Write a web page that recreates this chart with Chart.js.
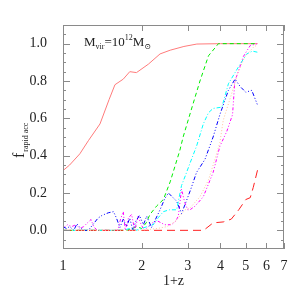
<!DOCTYPE html>
<html>
<head>
<meta charset="utf-8">
<script src="https://cdn.jsdelivr.net/npm/chart.js@4/dist/chart.umd.min.js"></script>
<style>
  html, body { margin: 0; padding: 0; background: #fff; }
  #wrap { width: 300px; height: 300px; }
</style>
</head>
<body>
<div id="wrap"><canvas id="myChart" width="300" height="300"></canvas></div>
<script>
// axis ticks
const xTickVals = [1, 2, 3, 4, 5, 6, 7];
const yTickVals = [0.0, 0.2, 0.4, 0.6, 0.8, 1.0];
const yMinorVals = [-0.05, 0.05, 0.1, 0.15, 0.25, 0.3, 0.35, 0.45, 0.5, 0.55, 0.65, 0.7, 0.75, 0.85, 0.9, 0.95, 1.05];

// salmon solid
const salmonX = [1, 1.06, 1.16, 1.25, 1.385, 1.5, 1.58, 1.7, 1.8, 1.91, 2.12, 2.35, 2.57, 2.9, 3.25, 4, 5, 5.55];
const salmonY = [0.32, 0.35, 0.41, 0.48, 0.57, 0.7, 0.78, 0.81, 0.85, 0.845, 0.89, 0.945, 0.965, 0.985, 0.998, 1, 1, 1];

// green dashed
const greenX = [1, 1.5, 1.75, 1.85, 1.91, 2.0, 2.08, 2.15, 2.28, 2.42, 2.57, 2.8, 2.88, 3.1, 3.34, 3.6, 3.93, 5.55];
const greenY = [0, 0, 0, 0.01, 0.02, 0.01, 0.04, 0.085, 0.13, 0.165, 0.26, 0.43, 0.5, 0.65, 0.8, 0.935, 1.0, 1.0];

// cyan dash-dot
const cyanX = [1, 1.1, 1.2, 1.3, 1.4, 1.5, 1.6, 1.7, 1.8, 1.9, 2.0, 2.1, 2.21, 2.32, 2.42, 2.55, 2.72, 2.84, 2.95, 3.06, 3.24, 3.44, 3.6, 3.75, 4.05, 4.29, 4.68, 5.04, 5.3, 5.55];
const cyanY = [0, 0, 0, 0, 0, 0, 0, 0, 0.01, 0, 0.01, 0.02, 0.03, 0.07, 0.1, 0.11, 0.11, 0.24, 0.3, 0.36, 0.45, 0.57, 0.63, 0.653, 0.66, 0.785, 0.874, 0.945, 0.96, 0.954];

// blue dash-dot-dot-dot
const blueX = [1, 1.03, 1.06, 1.1, 1.13, 1.17, 1.21, 1.25, 1.3, 1.36, 1.41, 1.49, 1.56, 1.6, 1.65, 1.7, 1.75, 1.8, 1.85, 1.9, 1.96, 2.03, 2.09, 2.18, 2.26, 2.35, 2.45, 2.53, 2.64, 2.72, 2.84, 2.95, 3.08, 3.24, 3.49, 3.75, 3.98, 4.29, 4.55, 4.76, 5.0, 5.27, 5.55];
const blueY = [0.02, 0.01, 0.02, 0, 0.035, 0.01, 0, 0, 0.03, 0.065, 0.08, 0.094, 0.1, 0.067, 0.015, 0.06, 0.02, 0.065, 0, 0.05, 0.08, 0.03, 0.076, 0.015, 0.06, 0.11, 0.17, 0.2, 0.174, 0.156, 0.09, 0.15, 0.22, 0.31, 0.38, 0.5, 0.62, 0.75, 0.81, 0.77, 0.74, 0.75, 0.67];

// magenta dash-dot-dot
const magentaX = [1, 1.04, 1.08, 1.12, 1.16, 1.2, 1.24, 1.28, 1.31, 1.35, 1.45, 1.55, 1.62, 1.66, 1.7, 1.73, 1.78, 1.83, 1.88, 1.94, 1.99, 2.05, 2.12, 2.2, 2.3, 2.45, 2.6, 2.7, 2.76, 2.84, 2.92, 3.0, 3.06, 3.2, 3.44, 3.75, 3.98, 4.23, 4.45, 4.54, 4.68, 4.89, 5.04, 5.2, 5.55];
const magentaY = [0.01, 0.03, 0.02, 0.03, 0.01, 0.02, 0.04, 0.058, 0.02, 0, 0, 0, 0, 0.06, 0.1, 0, 0.067, 0.085, 0, 0.076, 0.03, 0, 0.02, 0.04, 0.05, 0.03, 0.03, 0.05, 0.076, 0.22, 0.15, 0.11, 0.11, 0.13, 0.18, 0.31, 0.45, 0.53, 0.62, 0.8, 0.85, 0.93, 0.96, 0.99, 1.0];

// peach dotted
const peachX = [1, 1.5, 2.0, 2.3, 2.5, 2.7, 2.93, 3.06, 3.34, 3.6, 3.81, 3.98, 4.1, 4.41, 4.68, 4.96, 5.34, 5.55];
const peachY = [0, 0, 0, 0.01, 0.02, 0.05, 0.11, 0.12, 0.18, 0.27, 0.38, 0.47, 0.59, 0.73, 0.85, 0.93, 0.98, 0.995];

// red long dashes
const redX = [1, 3.45, 3.75, 4.1, 4.4, 4.7, 5.0, 5.2, 5.34, 5.55];
const redY = [0, 0, 0.04, 0.045, 0.06, 0.11, 0.165, 0.175, 0.23, 0.325];

const serif = '"Liberation Serif", "DejaVu Serif", serif';

function pts(xs, ys) {
  return xs.map((x, i) => ({ x: x, y: ys[i] }));
}

function serie(xs, ys, color, dash) {
  return {
    data: pts(xs, ys),
    borderColor: color,
    borderWidth: 1,
    borderDash: dash,
    pointRadius: 0,
    fill: false,
    tension: 0
  };
}

// ticks inside the frame, frame, labels with sub/superscripts
const decorations = {
  id: 'decorations',
  afterDraw(chart) {
    const ctx = chart.ctx;
    const a = chart.chartArea;
    const xs = chart.scales.x;
    const ys = chart.scales.y;
    ctx.save();
    ctx.strokeStyle = '#8a8a8a';
    ctx.lineWidth = 1;
    ctx.strokeRect(Math.round(a.left) + 0.5, Math.round(a.top) + 0.5, Math.round(a.right - a.left) - 1, Math.round(a.bottom - a.top) - 1);

    ctx.beginPath();
    xTickVals.forEach(v => {
      const px = Math.round(xs.getPixelForValue(v)) + 0.5;
      ctx.moveTo(px, a.bottom); ctx.lineTo(px, a.bottom - 6);
      ctx.moveTo(px, a.top); ctx.lineTo(px, a.top + 6);
    });
    yTickVals.forEach(v => {
      const py = Math.round(ys.getPixelForValue(v)) + 0.5;
      ctx.moveTo(a.left, py); ctx.lineTo(a.left + 7, py);
      ctx.moveTo(a.right, py); ctx.lineTo(a.right - 7, py);
    });
    yMinorVals.forEach(v => {
      const py = Math.round(ys.getPixelForValue(v)) + 0.5;
      ctx.moveTo(a.left, py); ctx.lineTo(a.left + 3, py);
      ctx.moveTo(a.right, py); ctx.lineTo(a.right - 3, py);
    });
    ctx.stroke();

    ctx.fillStyle = '#222';
    ctx.textBaseline = 'alphabetic';
    ctx.textAlign = 'left';

    // M_vir = 10^12 M_sun
    let x = 84;
    const base = 46;
    const big = '13px ' + serif;
    const small = '8px ' + serif;
    function put(t, font, dy) {
      ctx.font = font;
      ctx.fillText(t, x, base + dy);
      x += ctx.measureText(t).width;
    }
    put('M', big, 0);
    put('vir', small, 3);
    put('=10', big, 0);
    put('12', small, -6);
    put('M', big, 0);
    put('\u2299', small, 3);

    // x title
    ctx.font = '14px ' + serif;
    ctx.textAlign = 'center';
    ctx.fillText('1+z', (a.left + a.right) / 2, 285);

    // y title, rotated
    ctx.save();
    ctx.translate(24, 158);
    ctx.rotate(-Math.PI / 2);
    ctx.textAlign = 'left';
    ctx.font = '16px ' + serif;
    ctx.fillText('f', 0, 0);
    const fw = ctx.measureText('f').width;
    ctx.font = '8px ' + serif;
    ctx.fillText('rapid acc', fw + 1, 4);
    ctx.restore();

    ctx.restore();
  }
};

const ctx = document.getElementById('myChart').getContext('2d');
const myChart = new Chart(ctx, {
  type: 'line',
  data: {
    datasets: [
      serie(peachX, peachY, '#ffc39a', [1, 2]),
      serie(redX, redY, '#ff2020', [8, 5]),
      serie(cyanX, cyanY, '#00ffff', [4, 2, 1, 2]),
      serie(blueX, blueY, '#0000ff', [4, 2, 1, 2, 1, 2, 1, 2]),
      serie(magentaX, magentaY, '#ff00ff', [3, 2, 1, 2, 1, 2]),
      serie(greenX, greenY, '#00ee00', [4, 3]),
      serie(salmonX, salmonY, '#ff7b7b', [])
    ]
  },
  options: {
    responsive: false,
    animation: false,
    layout: { padding: { left: 0, right: 16, top: 25, bottom: 0 } },
    plugins: {
      legend: { display: false },
      tooltip: { enabled: false }
    },
    scales: {
      x: {
        type: 'logarithmic',
        min: 1,
        max: 7,
        grid: { display: false },
        border: { display: false },
        afterBuildTicks: s => { s.ticks = xTickVals.map(v => ({ value: v })); },
        afterFit: s => { s.height = 51; },
        ticks: {
          autoSkip: false,
          maxRotation: 0,
          padding: 1,
          color: '#222',
          font: { family: serif, size: 14 },
          callback: v => String(v)
        }
      },
      y: {
        type: 'linear',
        min: -0.1,
        max: 1.1,
        grid: { display: false },
        border: { display: false },
        afterBuildTicks: s => { s.ticks = yTickVals.map(v => ({ value: v })); },
        afterFit: s => { s.width = 63; },
        ticks: {
          padding: 8,
          color: '#222',
          font: { family: serif, size: 14 },
          callback: v => Number(v).toFixed(1)
        }
      }
    }
  },
  plugins: [decorations]
});
</script>
</body>
</html>
